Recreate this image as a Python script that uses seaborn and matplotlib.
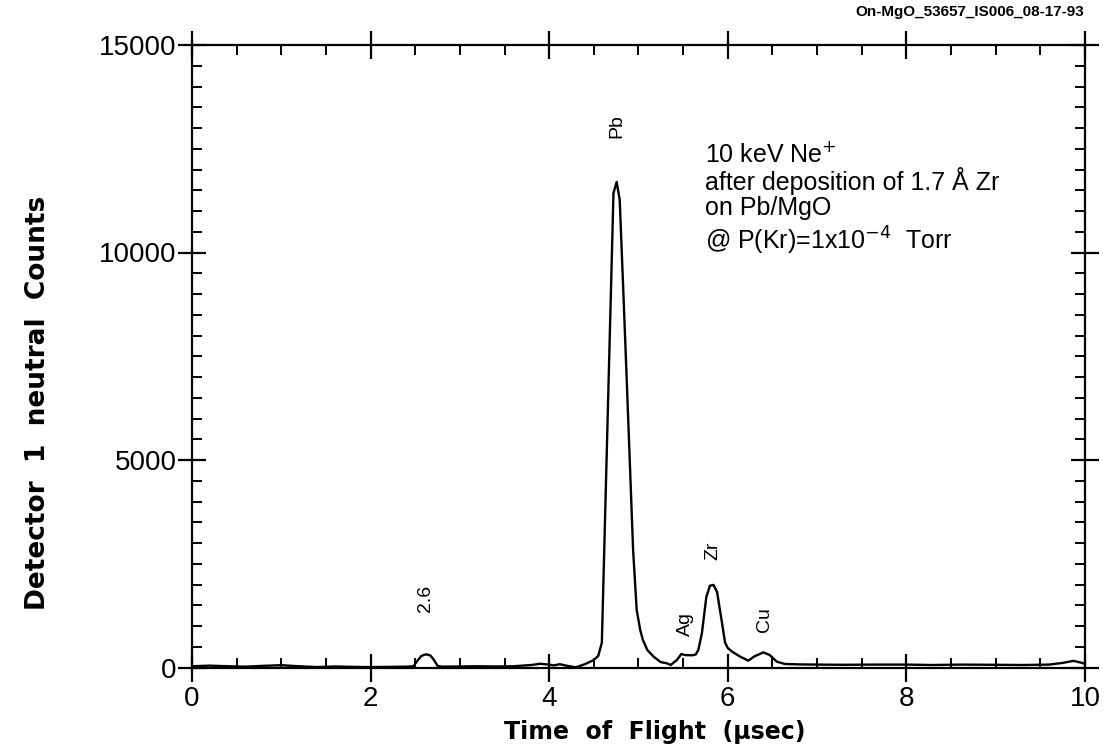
import matplotlib
matplotlib.use("Agg")
import matplotlib.pyplot as plt
import seaborn as sns
import pandas as pd
from matplotlib.ticker import MultipleLocator

# ---- data ----
tof_us = [0.0, 0.2, 0.4, 0.6, 0.8, 1.0, 1.2, 1.4, 1.6, 1.8, 2.0, 2.2, 2.4, 2.48,
          2.52, 2.57, 2.62, 2.67, 2.71, 2.75, 2.8, 3.0, 3.2, 3.4, 3.6, 3.8, 3.9,
          4.0, 4.05, 4.12, 4.2, 4.3, 4.4, 4.5, 4.55, 4.59, 4.65, 4.7, 4.72, 4.756,
          4.79, 4.83, 4.87, 4.91, 4.94, 4.98, 5.02, 5.05, 5.1, 5.17, 5.25, 5.32,
          5.36, 5.43, 5.48, 5.52, 5.6, 5.64, 5.67, 5.71, 5.76, 5.8, 5.84, 5.88,
          5.93, 5.97, 6.0, 6.05, 6.14, 6.23, 6.3, 6.4, 6.47, 6.55, 6.64, 6.8,
          7.0, 7.3, 7.6, 8.0, 8.3, 8.6, 9.0, 9.3, 9.6, 9.75, 9.87, 9.95, 10.0]
counts = [30, 45, 30, 20, 40, 55, 30, 10, 25, 15, 10, 15, 20, 30,
          150, 280, 318, 290, 180, 40, 20, 25, 30, 25, 30, 60, 90,
          70, 50, 80, 40, 5, 80, 180, 280, 600, 5600, 9750, 11430, 11700,
          11270, 9090, 6850, 4560, 2830, 1390, 900, 660, 420, 260, 130, 100,
          60, 180, 325, 300, 295, 310, 420, 820, 1700, 1970, 1990, 1820,
          1150, 600, 470, 380, 260, 165, 270, 365, 300, 140, 85, 75,
          70, 65, 70, 70, 60, 70, 65, 60, 70, 110, 160, 120, 90]

peak_names = ["2.6", "Pb", "Ag", "Zr", "Cu"]
peak_pos = [2.62, 4.76, 5.53, 5.83, 6.41]
peak_label_y = [1330, 12760, 760, 2590, 850]

info_lines = ["10 keV Ne$^{+}$", "after deposition of 1.7 \u00c5 Zr",
              "on Pb/MgO", "@ P(Kr)=1x10$^{-4}$  Torr"]
info_y = [12370, 11720, 11070, 10270]

x_ticks = [0, 2, 4, 6, 8, 10]
y_ticks = [0, 5000, 10000, 15000]

df = pd.DataFrame({"tof": tof_us, "counts": counts})

sns.set_theme(style="white", rc={"text.color": "black",
                                 "axes.labelcolor": "black",
                                 "xtick.color": "black",
                                 "ytick.color": "black"})
plt.rcParams["font.family"] = ["Liberation Sans", "DejaVu Sans"]

fig = plt.figure(figsize=(11.07, 7.5), dpi=100)
ax = fig.add_axes([0.1734, 0.11, 0.8067, 0.83])

sns.lineplot(data=df, x="tof", y="counts", ax=ax, color="black",
             linewidth=1.7, estimator=None, sort=False)

ax.set_xlim(0, 10)
ax.set_ylim(0, 15000)
ax.set_xticks(x_ticks)
ax.set_yticks(y_ticks)
ax.xaxis.set_minor_locator(MultipleLocator(0.5))
ax.yaxis.set_minor_locator(MultipleLocator(500))

for s in ax.spines.values():
    s.set_color("black")
    s.set_linewidth(1.6)

ax.tick_params(which="major", direction="inout", length=20, width=1.6,
               top=True, right=True, bottom=True, left=True,
               labelsize=20, colors="black")
ax.tick_params(axis="x", which="major", pad=3)
ax.tick_params(axis="y", which="major", pad=1)
ax.tick_params(which="minor", direction="in", length=7, width=1.4,
               top=True, right=True, bottom=True, left=True)

ax.set_xlabel("Time  of  Flight  (\u00b5sec)", fontsize=17, fontweight="bold",
              family="DejaVu Sans")
ax.set_ylabel("Detector  1  neutral  Counts", fontsize=19, fontweight="bold",
              family="DejaVu Sans")
ax.xaxis.set_label_coords(0.518, -0.085)
ax.yaxis.set_label_coords(-0.158, 0.425)

for name, xp, yp in zip(peak_names, peak_pos, peak_label_y):
    ax.text(xp, yp, name, rotation=90, ha="center", va="bottom", fontsize=14)

for line, yp in zip(info_lines, info_y):
    ax.text(5.74, yp, line, fontsize=18, ha="left", va="center")

fig.text(0.979, 0.984, "On-MgO_53657_IS006_08-17-93", fontsize=11,
         fontweight="bold", ha="right", va="center")

fig.savefig("out.png", dpi=100, facecolor="white")
